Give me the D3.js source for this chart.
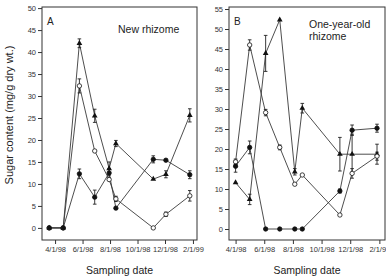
<!DOCTYPE html>
<html>
<head>
<meta charset="utf-8">
<script src="https://cdn.jsdelivr.net/npm/d3@7"></script>
<style>
  body { margin: 0; background: #fff; }
  svg { display: block; font-family: "Liberation Sans", Arial, sans-serif; }
</style>
</head>
<body>
<svg id="chart" width="386" height="277"></svg>
<script>
const parse = d3.timeParse("%m/%d/%Y");

// sampling dates
const datesA = ["03/19/1998", "04/19/1998", "05/25/1998", "06/28/1998", "07/30/1998",
                "08/14/1998", "11/05/1998", "12/03/1998", "01/25/1999"].map(parse);
const datesB = ["04/01/1998", "05/01/1998", "06/04/1998", "07/04/1998", "08/05/1998",
                "08/21/1998", "11/09/1998", "12/05/1998", "01/27/1999"].map(parse);

const tickDates = ["04/01/1998", "06/01/1998", "08/01/1998", "10/01/1998", "12/01/1998", "02/01/1999"].map(parse);
const tickFormat = d3.timeFormat("%-m/%-d/%y");

// panel A - new rhizome
const aFilled = [0, 0, 12.3, 7.0, 12.5, 4.5, 15.6, 15.4, 12.1];
const aFilledErr = [0, 0, 1.1, 1.6, 1.0, 0.3, 0.8, 0.3, 0.9];
const aOpen = [0, 0, 32.3, 17.5, 11.0, 6.6, 0, 3.1, 7.3];
const aOpenErr = [0, 0, 1.6, 0.3, 0.4, 0.6, 0, 0.5, 1.2];
const aTri = [0, 0, 42.0, 25.5, 13.5, 19.2, 11.1, 12.2, 25.6];
const aTriErr = [0, 0, 1.0, 1.5, 1.5, 0.7, 0.3, 0.8, 1.5];

// panel B - one-year-old rhizome
const bFilled = [15.7, 20.4, 0, 0, 0, 0, 9.5, 24.7, 25.2];
const bFilledErr = [1.5, 1.6, 0, 0, 0, 0, 0.5, 1.3, 1.0];
const bOpen = [16.8, 46.0, 29.1, 20.4, 11.2, 13.5, 3.5, 13.9, 18.2];
const bOpenErr = [0.7, 1.3, 0.8, 0.6, 0.2, 0.3, 0.3, 1.2, 1.0];
const bTri = [11.6, 7.4, 43.9, 52.3, 14.3, 30.2, 18.7, 18.7, 18.7];
const bTriErr = [0.3, 1.3, 4.5, 0.3, 0.8, 1.2, 4.2, 5.0, 2.5];

const yTicksA = d3.range(0, 51, 5);
const yTicksB = d3.range(0, 56, 5);

const svg = d3.select("#chart");

svg.append("text")
  .attr("transform", "translate(13,115) rotate(-90)")
  .attr("text-anchor", "middle")
  .attr("font-size", 11)
  .attr("fill", "#222")
  .text("Sugar content (mg/g dry wt.)");

function panel(opt) {
  const x = d3.scaleTime().domain(opt.xDomain).range([opt.left, opt.right]);
  const y = d3.scaleLinear().domain(opt.yDomain).range([240, 7]);
  const g = svg.append("g");

  g.append("rect")
    .attr("x", opt.left).attr("y", 7)
    .attr("width", opt.right - opt.left).attr("height", 233)
    .attr("fill", "none").attr("stroke", "#333").attr("stroke-width", 1);

  const yAxis = g.append("g")
    .attr("transform", "translate(" + opt.left + ",0)")
    .call(d3.axisLeft(y).tickValues(opt.yTicks).tickSize(4).tickPadding(2));
  const xAxis = g.append("g")
    .attr("transform", "translate(0,240)")
    .call(d3.axisBottom(x).tickValues(tickDates).tickFormat(tickFormat).tickSize(4).tickPadding(3));
  [yAxis, xAxis].forEach(a => {
    a.select(".domain").remove();
    a.selectAll("line").attr("stroke", "#333");
    a.selectAll("text").attr("font-size", 7.5).attr("fill", "#333")
      .attr("font-family", "Liberation Sans, Arial, sans-serif");
  });

  g.append("text")
    .attr("x", (opt.left + opt.right) / 2).attr("y", 274)
    .attr("text-anchor", "middle").attr("font-size", 10.5).attr("fill", "#222")
    .text("Sampling date");

  g.append("text").attr("x", opt.left + 5).attr("y", 25)
    .attr("font-size", 10).attr("fill", "#222").text(opt.letter);
  opt.title.forEach((t, i) => {
    g.append("text").attr("x", opt.titleX).attr("y", opt.titleY + i * 12)
      .attr("font-size", 10.5).attr("fill", "#222").text(t);
  });

  const line = d3.line().x((d, i) => x(opt.dates[i])).y(d => y(d));
  const tri = d3.symbol().type(d3.symbolTriangle).size(14);

  opt.series.forEach(s => {
    g.append("path").datum(s.values)
      .attr("d", line).attr("fill", "none")
      .attr("stroke", "#3a3a3a").attr("stroke-width", 0.9);
  });

  opt.series.forEach(s => {
    const eb = g.append("g").selectAll("g")
      .data(s.values.map((v, i) => ({ v, e: s.err[i], d: opt.dates[i] })).filter(p => p.e > 0.4))
      .enter().append("g").attr("stroke", "#222").attr("stroke-width", 0.9);
    eb.append("line")
      .attr("x1", p => x(p.d)).attr("x2", p => x(p.d))
      .attr("y1", p => y(p.v - p.e)).attr("y2", p => y(p.v + p.e));
    eb.append("line")
      .attr("x1", p => x(p.d) - 1.8).attr("x2", p => x(p.d) + 1.8)
      .attr("y1", p => y(p.v + p.e)).attr("y2", p => y(p.v + p.e));
    eb.append("line")
      .attr("x1", p => x(p.d) - 1.8).attr("x2", p => x(p.d) + 1.8)
      .attr("y1", p => y(p.v - p.e)).attr("y2", p => y(p.v - p.e));
  });

  opt.series.forEach(s => {
    const pts = g.append("g").selectAll("path")
      .data(s.values).enter();
    if (s.shape === "tri") {
      pts.append("path")
        .attr("transform", (d, i) => "translate(" + x(opt.dates[i]) + "," + y(d) + ")")
        .attr("d", tri).attr("fill", "#111");
    } else {
      pts.append("circle")
        .attr("cx", (d, i) => x(opt.dates[i])).attr("cy", d => y(d)).attr("r", 2.2)
        .attr("fill", s.shape === "open" ? "#fff" : "#111")
        .attr("stroke", "#111").attr("stroke-width", 0.8);
    }
  });
}

panel({
  left: 42, right: 197,
  xDomain: [parse("03/03/1998"), parse("02/10/1999")],
  yDomain: [-2.75, 50.25], yTicks: yTicksA,
  dates: datesA, letter: "A", title: ["New rhizome"], titleX: 118, titleY: 33,
  series: [
    { values: aTri, err: aTriErr, shape: "tri" },
    { values: aOpen, err: aOpenErr, shape: "open" },
    { values: aFilled, err: aFilledErr, shape: "filled" }
  ]
});

panel({
  left: 229, right: 385,
  xDomain: [parse("03/18/1998"), parse("02/13/1999")],
  yDomain: [-2.75, 55.5], yTicks: yTicksB,
  dates: datesB, letter: "B", title: ["One-year-old", "rhizome"], titleX: 309, titleY: 28,
  series: [
    { values: bTri, err: bTriErr, shape: "tri" },
    { values: bOpen, err: bOpenErr, shape: "open" },
    { values: bFilled, err: bFilledErr, shape: "filled" }
  ]
});
</script>
</body>
</html>
